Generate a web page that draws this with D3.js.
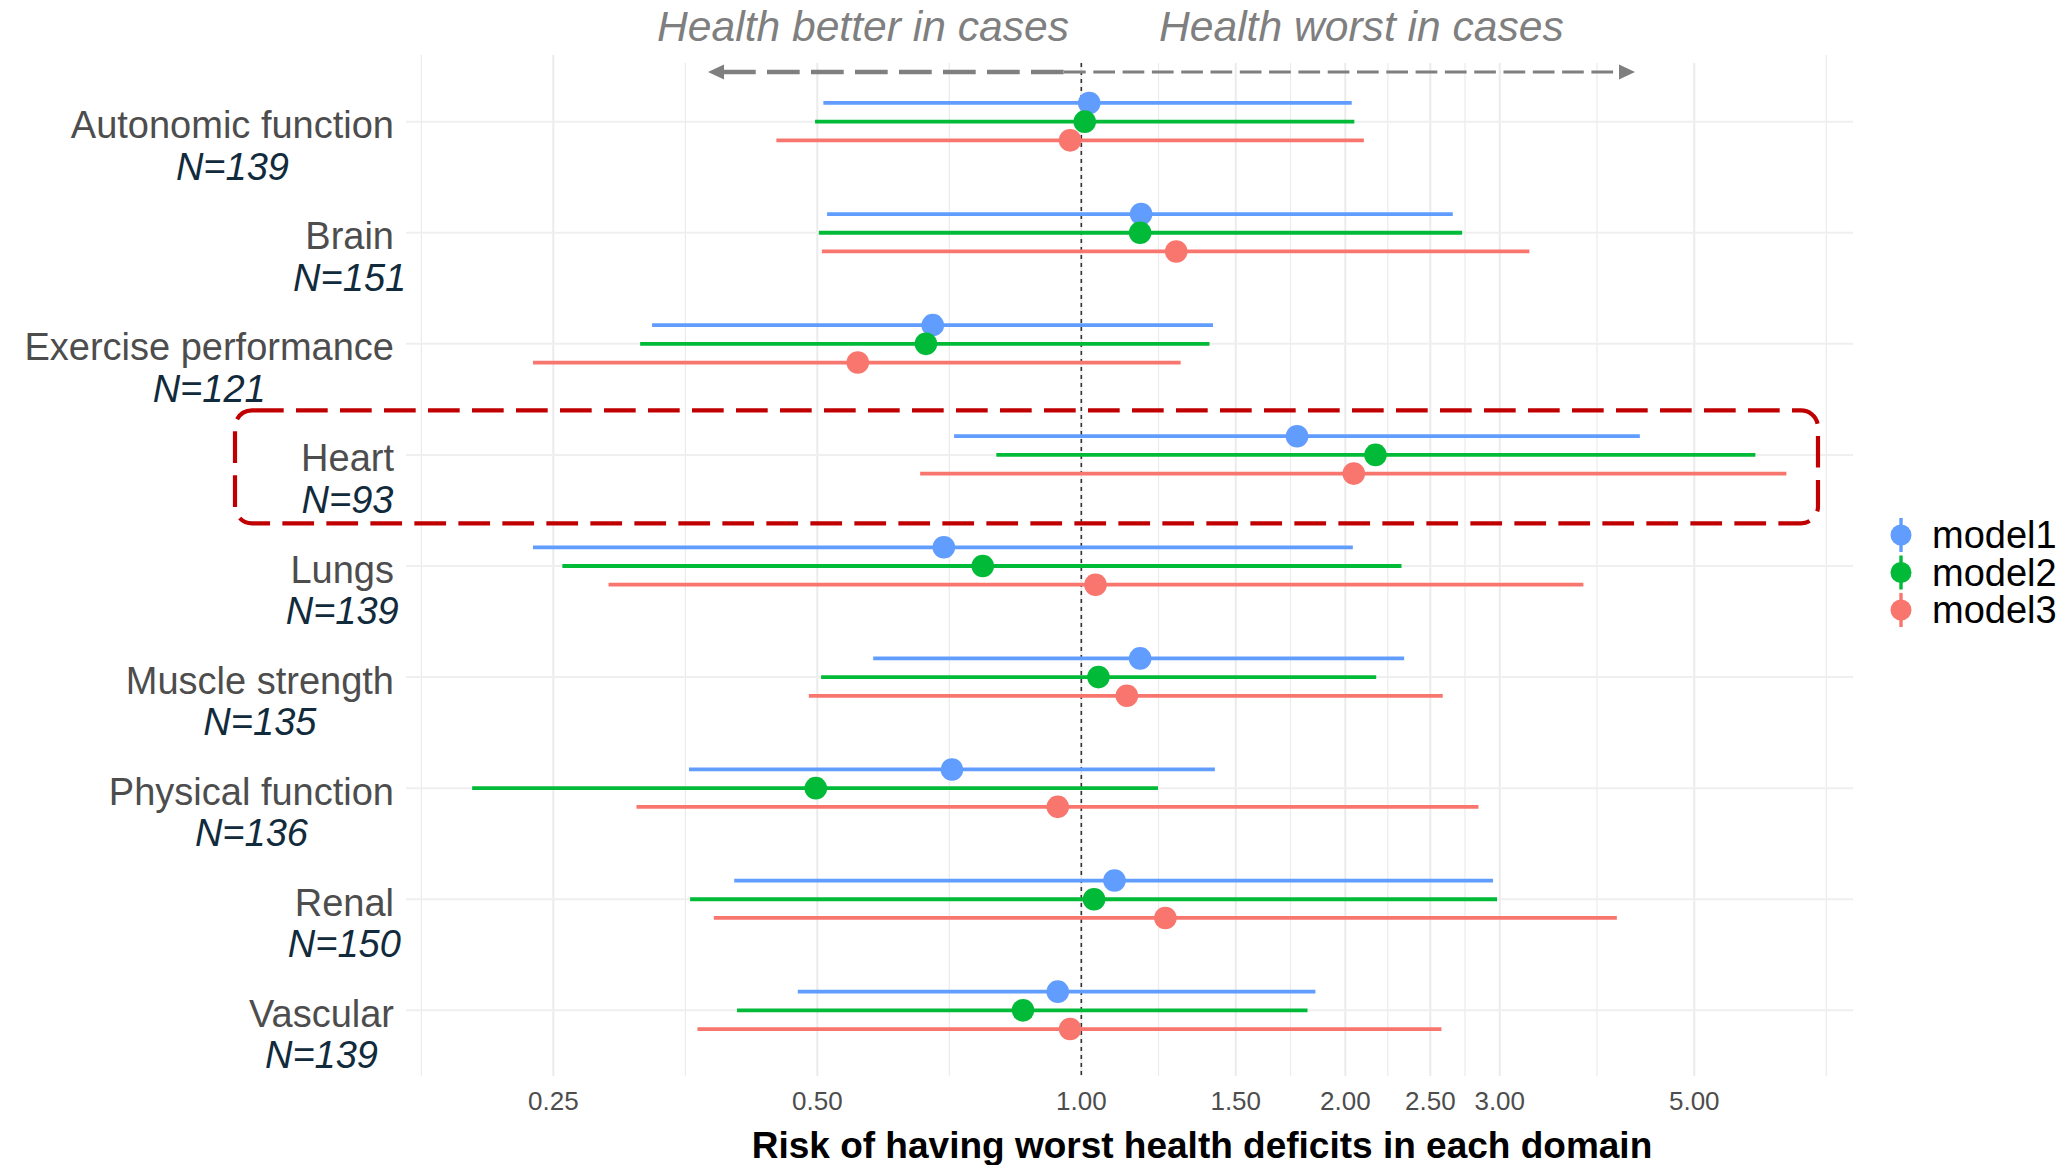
<!DOCTYPE html>
<html>
<head>
<meta charset="utf-8">
<script src="https://cdn.jsdelivr.net/npm/d3@7"></script>
<style>
  html, body { margin: 0; padding: 0; background: #ffffff; }
  svg { display: block; font-family: "Liberation Sans", Arial, sans-serif; }
</style>
</head>
<body>
<svg id="chart" width="2066" height="1165"></svg>
<script>
// ---------------- data ----------------
const categories = ["Autonomic function", "Brain", "Exercise performance", "Heart", "Lungs",
                    "Muscle strength", "Physical function", "Renal", "Vascular"];
const sampleSizes = [139, 151, 121, 93, 139, 135, 136, 150, 139];
const models = ["model1", "model2", "model3"];
const modelColors = ["#619CFF", "#00BA38", "#F8766D"];

const model1Est = [1.021, 1.170, 0.677, 1.762, 0.697, 1.167, 0.712, 1.091, 0.940];
const model1Lo  = [0.508, 0.513, 0.324, 0.716, 0.237, 0.579, 0.357, 0.402, 0.475];
const model1Hi  = [2.034, 2.652, 1.413, 4.334, 2.040, 2.334, 1.420, 2.948, 1.849];

const model2Est = [1.009, 1.167, 0.665, 2.165, 0.772, 1.046, 0.498, 1.034, 0.858];
const model2Lo  = [0.497, 0.502, 0.314, 0.800, 0.256, 0.505, 0.202, 0.358, 0.405];
const model2Hi  = [2.048, 2.718, 1.400, 5.870, 2.318, 2.169, 1.223, 2.979, 1.811];

const model3Est = [0.971, 1.283, 0.556, 2.045, 1.038, 1.127, 0.940, 1.247, 0.971];
const model3Lo  = [0.449, 0.506, 0.237, 0.655, 0.289, 0.489, 0.311, 0.381, 0.365];
const model3Hi  = [2.100, 3.243, 1.298, 6.368, 3.737, 2.583, 2.837, 4.080, 2.574];

const majorTicks = [0.25, 0.5, 1, 1.5, 2, 2.5, 3, 5];
const tickLabels = ["0.25", "0.50", "1.00", "1.50", "2.00", "2.50", "3.00", "5.00"];
const minorTicks = [0.1768, 0.3536, 0.7071, 1.2247, 1.7321, 2.2361, 2.7386, 3.873, 7.0711];

const xTitle = "Risk of having worst health deficits in each domain";
const leftNote = "Health better in cases";
const rightNote = "Health worst in cases";
const highlighted = "Heart";

// ---------------- layout ----------------
const svg = d3.select("#chart");
const panel = { left: 406, right: 1853, top: 55, bottom: 1077 };

const x = d3.scaleLog().domain([0.1698, 7.585]).range([panel.left, panel.right]);
const y = d3.scalePoint().domain(categories).range([panel.top, panel.bottom]).padding(0.6);
const dodge = d3.scalePoint().domain(models).range([-18.7, 18.7]);
const color = d3.scaleOrdinal().domain(models).range(modelColors);

const series = [
  { model: "model1", est: model1Est, lo: model1Lo, hi: model1Hi },
  { model: "model2", est: model2Est, lo: model2Lo, hi: model2Hi },
  { model: "model3", est: model3Est, lo: model3Lo, hi: model3Hi }
];
const rows = [];
series.forEach(s => categories.forEach((c, i) => rows.push({
  model: s.model, cat: c, est: s.est[i], lo: s.lo[i], hi: s.hi[i]
})));

// ---------------- grid ----------------
const grid = svg.append("g");
grid.selectAll("line.minor").data(minorTicks).join("line")
  .attr("x1", d => x(d)).attr("x2", d => x(d))
  .attr("y1", panel.top).attr("y2", panel.bottom - 1)
  .attr("stroke", "#EBEBEB").attr("stroke-width", 1.2);
grid.selectAll("line.major").data(majorTicks).join("line")
  .attr("x1", d => x(d)).attr("x2", d => x(d))
  .attr("y1", panel.top).attr("y2", panel.bottom - 1)
  .attr("stroke", "#EBEBEB").attr("stroke-width", 2);
grid.selectAll("line.h").data(categories).join("line")
  .attr("x1", panel.left).attr("x2", panel.right)
  .attr("y1", d => y(d)).attr("y2", d => y(d))
  .attr("stroke", "#EFEFEF").attr("stroke-width", 2);

// white strip behind the annotation at the top of the panel
svg.append("rect").attr("x", 600).attr("y", 50).attr("width", 1160).attr("height", 13).attr("fill", "#ffffff");

// reference line at 1
svg.append("line")
  .attr("x1", x(1)).attr("x2", x(1)).attr("y1", 63).attr("y2", panel.bottom - 1)
  .attr("stroke", "#333333").attr("stroke-width", 1.6).attr("stroke-dasharray", "4,4");

// x tick labels
svg.append("g").selectAll("text").data(majorTicks).join("text")
  .attr("x", d => x(d)).attr("y", 1110)
  .attr("text-anchor", "middle").attr("font-size", 26).attr("fill", "#4D4D4D")
  .text((d, i) => tickLabels[i]);

// x title
svg.append("text").attr("x", 1202).attr("y", 1158)
  .attr("text-anchor", "middle").attr("font-size", 37).attr("font-weight", "bold")
  .attr("fill", "#000000").text(xTitle);

// ---------------- point ranges ----------------
const pr = svg.append("g");
pr.selectAll("line").data(rows).join("line")
  .attr("x1", d => x(d.lo)).attr("x2", d => x(d.hi))
  .attr("y1", d => y(d.cat) + dodge(d.model)).attr("y2", d => y(d.cat) + dodge(d.model))
  .attr("stroke", d => color(d.model)).attr("stroke-width", 3.8);
pr.selectAll("circle").data(rows).join("circle")
  .attr("cx", d => x(d.est)).attr("cy", d => y(d.cat) + dodge(d.model))
  .attr("r", 11.3).attr("fill", d => color(d.model));

// ---------------- category labels ----------------
const labG = svg.append("g");
const labelRight = 394;
categories.forEach((c, i) => {
  const g = labG.append("g");
  const t1 = g.append("text").attr("font-size", 38).attr("fill", "#4D4D4D")
    .attr("text-anchor", "end").attr("x", labelRight).attr("y", y(c) + 16.5).text(c);
  const w = t1.node().getComputedTextLength();
  g.append("text").attr("font-size", 38).attr("font-style", "italic").attr("fill", "#112B3C")
    .attr("text-anchor", "middle").attr("x", labelRight - w / 2).attr("y", y(c) + 58)
    .text("N=" + sampleSizes[i]);
});

// ---------------- highlight box ----------------
const hy = y(highlighted);
svg.append("rect")
  .attr("x", 235).attr("y", hy - 44.5).attr("width", 1583).attr("height", 113)
  .attr("rx", 17).attr("ry", 17)
  .attr("fill", "none").attr("stroke", "#C00000").attr("stroke-width", 4.2)
  .attr("stroke-dasharray", "31.7,12.3");

// ---------------- arrows + notes ----------------
const arrowY = 72;
const arrowCol = "#7F7F7F";
svg.append("line").attr("x1", 723).attr("x2", 1064).attr("y1", arrowY).attr("y2", arrowY)
  .attr("stroke", arrowCol).attr("stroke-width", 4.5).attr("stroke-dasharray", "32.7,11.3");
svg.append("path").attr("d", `M708,${arrowY} L724,${arrowY - 7.5} L724,${arrowY + 7.5} Z`).attr("fill", arrowCol);
svg.append("line").attr("x1", 1064).attr("x2", 1619).attr("y1", arrowY).attr("y2", arrowY)
  .attr("stroke", arrowCol).attr("stroke-width", 3.2).attr("stroke-dasharray", "21.7,7.6");
svg.append("path").attr("d", `M1635,${arrowY} L1619,${arrowY - 7.5} L1619,${arrowY + 7.5} Z`).attr("fill", arrowCol);

svg.append("text").attr("x", 1069).attr("y", 41).attr("text-anchor", "end")
  .attr("font-size", 42.6).attr("font-style", "italic").attr("fill", arrowCol).text(leftNote);
svg.append("text").attr("x", 1159).attr("y", 41).attr("text-anchor", "start")
  .attr("font-size", 42.6).attr("font-style", "italic").attr("fill", arrowCol).text(rightNote);

// ---------------- legend ----------------
const leg = svg.append("g");
const legY = d3.scalePoint().domain(models).range([535, 610]);
models.forEach(m => {
  const g = leg.append("g");
  g.append("line").attr("x1", 1901).attr("x2", 1901).attr("y1", legY(m) - 17).attr("y2", legY(m) + 17)
    .attr("stroke", color(m)).attr("stroke-width", 3.4);
  g.append("circle").attr("cx", 1901).attr("cy", legY(m)).attr("r", 10.5).attr("fill", color(m));
  g.append("text").attr("x", 1932).attr("y", legY(m) + 13).attr("font-size", 38).attr("fill", "#000000").text(m);
});
</script>
</body>
</html>
